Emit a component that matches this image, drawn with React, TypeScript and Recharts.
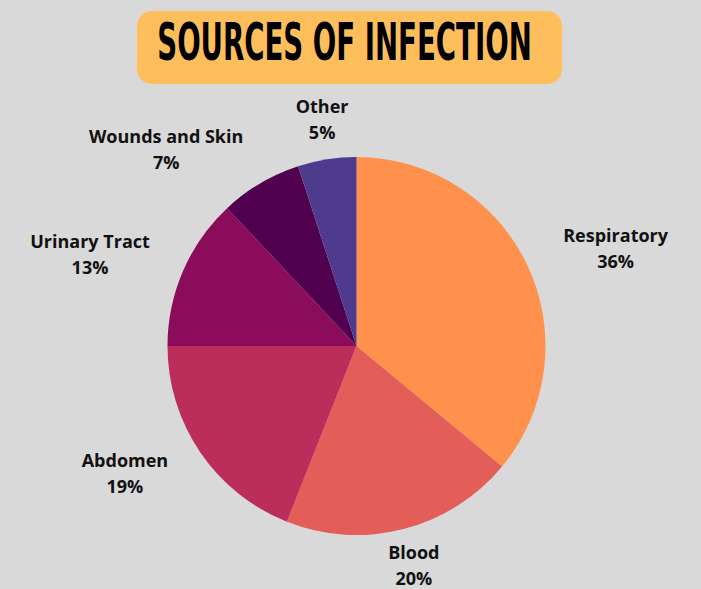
import * as React from "react";
import { Cell, Pie, PieChart } from "recharts";

const sources = ["Respiratory", "Blood", "Abdomen", "Urinary Tract", "Wounds and Skin", "Other"];
const shares = [36, 20, 19, 13, 7, 5];
const colors = ["#ff914d", "#e35d59", "#bb2e5b", "#8a0c5a", "#51004f", "#4e3b8e"];

const data = sources.map((name, i) => ({ name, value: shares[i] }));

// hand-tuned label spots (distance from centre, angle nudge) like in the original
const labelDist = [277, 226, 264, 282, 274, 230];
const labelNudge = [-4.5, 0.3, -5.5, 4.3, 13.4, -0.4];

const RADIAN = Math.PI / 180;

const renderLabel = (props: any) => {
    const { cx, cy, midAngle, index, name, value } = props;
    const a = (midAngle + labelNudge[index]) * RADIAN;
    const x = cx + labelDist[index] * Math.cos(a);
    const y = cy - labelDist[index] * Math.sin(a);
    return (
        <g>
            <text
                x={x}
                y={y - 13}
                textAnchor="middle"
                dominantBaseline="central"
                fill="#111"
                fontSize={18}
                fontWeight={700}
                fontFamily="'Open Sans', sans-serif"
            >
                {name}
            </text>
            <text
                x={x}
                y={y + 13}
                textAnchor="middle"
                dominantBaseline="central"
                fill="#111"
                fontSize={18}
                fontWeight={700}
                fontFamily="'Open Sans', sans-serif"
            >
                {value + "%"}
            </text>
        </g>
    );
};

export default function App() {
    return (
        <div style={{ position: "absolute", left: 0, top: 0, width: 701, height: 589, background: "#d9d9d9" }}>
            <svg width={701} height={95} style={{ position: "absolute", left: 0, top: 0 }}>
                <rect x={137} y={11} width={425} height={73} rx={15} fill="#ffbe5c" />
                <g transform="translate(344.5 60) scale(0.59 1)">
                    <text
                        x={0}
                        y={0}
                        textAnchor="middle"
                        fontSize={52}
                        fontWeight={700}
                        fontFamily="'DejaVu Sans Condensed', 'DejaVu Sans', sans-serif"
                        fill="#000"
                    >
                        SOURCES OF INFECTION
                    </text>
                </g>
            </svg>
            <PieChart
                width={701}
                height={589}
                margin={{ top: 0, right: 0, bottom: 0, left: 0 }}
                style={{ position: "absolute", left: 0, top: 0 }}
            >
                <Pie
                    data={data}
                    dataKey="value"
                    nameKey="name"
                    cx={356.5}
                    cy={346}
                    outerRadius={189}
                    startAngle={90}
                    endAngle={-270}
                    stroke="none"
                    label={renderLabel}
                    labelLine={false}
                    isAnimationActive={false}
                >
                    {data.map((d, i) => (
                        <Cell key={d.name} fill={colors[i]} />
                    ))}
                </Pie>
            </PieChart>
        </div>
    );
}
